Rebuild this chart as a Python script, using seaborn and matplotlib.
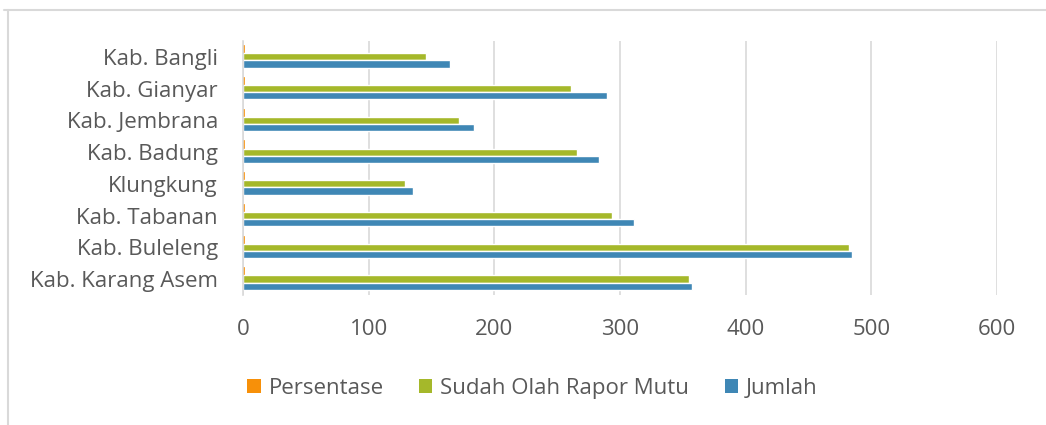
import pandas as pd
import seaborn as sns
import matplotlib.pyplot as plt
from matplotlib.patches import Patch
from matplotlib.lines import Line2D

regions = ['Kab. Bangli', 'Kab. Gianyar', 'Kab. Jembrana', 'Kab. Badung',
           'Klungkung', 'Kab. Tabanan', 'Kab. Buleleng', 'Kab. Karang Asem']
jumlah = [165, 290, 184, 283, 135, 311, 485, 357]
sudah = [146, 261, 172, 266, 129, 294, 482, 355]
persentase = [0.88, 0.90, 0.93, 0.94, 0.96, 0.95, 0.99, 0.99]

series = ['Persentase', 'Sudah Olah Rapor Mutu', 'Jumlah']
colors = ['#f79009', '#a5b82a', '#3f87b5']
xticks = [0, 100, 200, 300, 400, 500, 600]

df = pd.DataFrame({
    'Wilayah': regions * 3,
    'Seri': [series[0]] * 8 + [series[1]] * 8 + [series[2]] * 8,
    'Nilai': persentase + sudah + jumlah,
})

sns.set_style('white')
plt.rcParams['font.family'] = ['Open Sans', 'DejaVu Sans']
txt = '#595959'
fs = 16

fig = plt.figure(figsize=(10.46, 4.25), dpi=100)
ax = fig.add_axes([0.2323, 0.306, 0.7207, 0.5975])

sns.barplot(data=df, y='Wilayah', x='Nilai', hue='Seri', order=regions,
            hue_order=series, palette=colors, orient='h', width=0.68,
            gap=0, ax=ax, legend=False, saturation=1)

for p in ax.patches[:8]:
    p.set_edgecolor(colors[0])
    p.set_linewidth(1.2)

ax.set_xlim(0, 600)
ax.set_xticks(xticks)
ax.set_xticklabels([str(t) for t in xticks])
ax.set_xlabel('')
ax.set_ylabel('')
ax.grid(axis='x', color='#d9d9d9', linewidth=1.2)
ax.set_axisbelow(True)
for s in ['top', 'right', 'bottom']:
    ax.spines[s].set_visible(False)
ax.spines['left'].set_color('#d9d9d9')
ax.spines['left'].set_linewidth(1.2)
ax.tick_params(axis='both', length=0, labelsize=fs, colors=txt)
ax.tick_params(axis='x', pad=17)
ax.tick_params(axis='y', pad=18)

handles = [Patch(facecolor=c, edgecolor='none') for c in colors]
fig.legend(handles, series, loc='center', bbox_to_anchor=(0.509, 0.087),
           ncol=3, frameon=False, fontsize=fs, labelcolor=txt,
           handlelength=0.6, handleheight=0.6, handletextpad=0.35,
           columnspacing=1.6)

# chart frame edges
fig.add_artist(Line2D([4 / 1046, 1], [1 - 10 / 425, 1 - 10 / 425],
                      color='#d9d9d9', linewidth=1.5, transform=fig.transFigure))
fig.add_artist(Line2D([8 / 1046, 8 / 1046], [0, 1 - 10 / 425],
                      color='#d9d9d9', linewidth=1.5, transform=fig.transFigure))

plt.savefig('out.png', dpi=100)
plt.close()
